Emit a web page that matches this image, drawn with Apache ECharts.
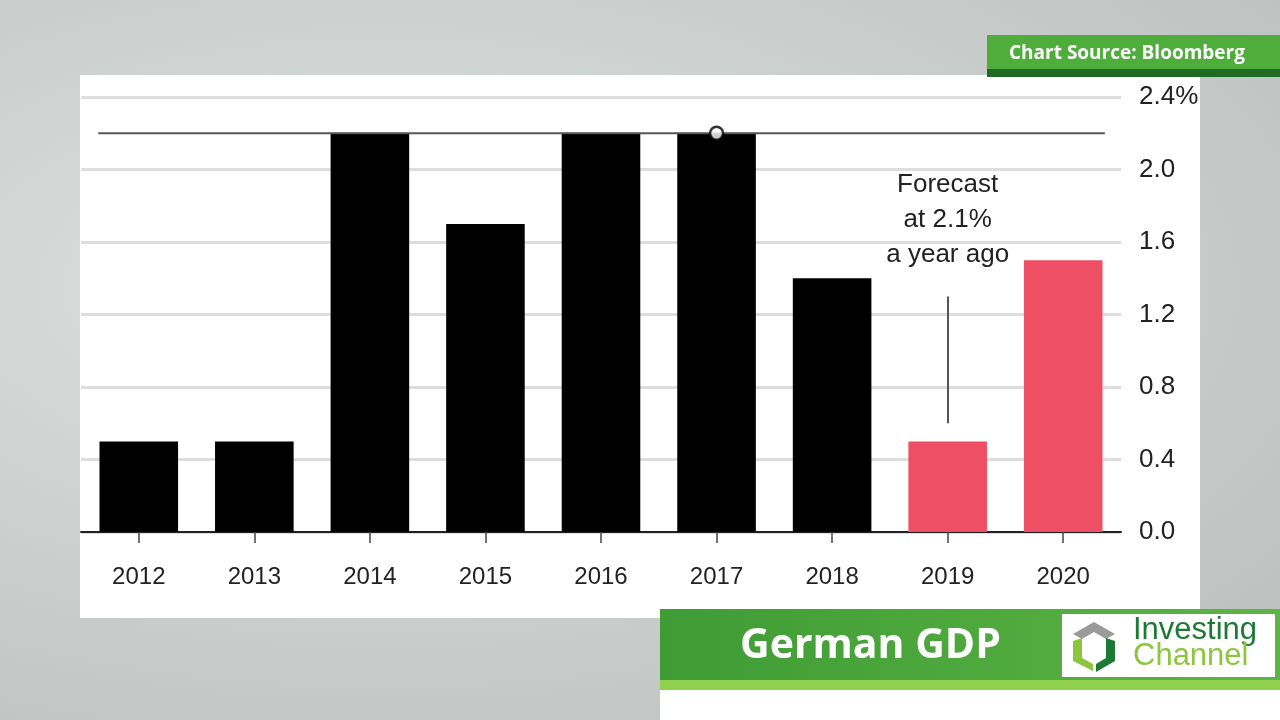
<!DOCTYPE html>
<html lang="en">
<head>
	<meta charset="UTF-8">
	<title>German GDP</title>
	<style>
		html, body { margin: 0; padding: 0; }
		body {
			width: 1280px; height: 720px; overflow: hidden;
			background: radial-gradient(ellipse at 30% 40%, #dfe2e1 0%, #c9cdcc 55%, #b9bebd 100%);
		}
		#chart { width: 1280px; height: 720px; }
	</style>
</head>
<body>
	<div id="chart"></div>
<script src="https://cdn.jsdelivr.net/npm/echarts@6/dist/echarts.min.js"></script>
<script>
	// data
	var years = ['2012', '2013', '2014', '2015', '2016', '2017', '2018', '2019', '2020'];
	var gdp = [0.5, 0.5, 2.2, 1.7, 2.2, 2.2, 1.4, 0.5, 1.5];
	var forecastYears = ['2019', '2020'];
	var refLevel = 2.2;          // dark line across the bars
	var refMarkYear = '2017';    // open circle on the line
	var pointerYear = '2019';
	var pointerRange = [0.6, 1.3];
	var noteText = 'Forecast\nat 2.1%\na year ago';
	var noteLevel = 1.72;

	var black = '#000000', red = '#ee4f64';

	var barData = gdp.map(function (v, i) {
		return {
			value: v,
			itemStyle: { color: forecastYears.indexOf(years[i]) >= 0 ? red : black }
		};
	});

	var chart = echarts.init(document.getElementById('chart'));

	var option = {
		animation: false,
		textStyle: { fontFamily: 'Liberation Sans, Arial, sans-serif' },
		graphic: [
			// white chart panel
			{ type: 'rect', z: -10, shape: { x: 80, y: 75, width: 1120, height: 543 }, style: { fill: '#ffffff' } },
			// source tag
			{ type: 'rect', z: 10, shape: { x: 987, y: 35, width: 293, height: 36 }, style: { fill: '#4fad3c' } },
			{ type: 'rect', z: 10, shape: { x: 987, y: 69, width: 293, height: 8 }, style: { fill: '#1f6b24' } },
			{ type: 'text', z: 11, left: 1009, top: 44, style: {
				text: 'Chart Source: Bloomberg', fill: '#ffffff',
				font: 'bold 19px "Open Sans", "DejaVu Sans", sans-serif'
			} },
			// title banner
			{ type: 'rect', z: 10, shape: { x: 660, y: 690, width: 620, height: 30 }, style: { fill: '#ffffff' } },
			{ type: 'rect', z: 10, shape: { x: 660, y: 609, width: 620, height: 72 }, style: {
				fill: new echarts.graphic.LinearGradient(0, 0, 1, 0, [
					{ offset: 0, color: '#3f9b35' }, { offset: 1, color: '#5cb544' }
				])
			} },
			{ type: 'rect', z: 10, shape: { x: 660, y: 680, width: 620, height: 10 }, style: { fill: '#8fd14f' } },
			{ type: 'text', z: 11, left: 740, top: 626, style: {
				text: 'German GDP', fill: '#ffffff',
				font: 'bold 41px "Open Sans", "DejaVu Sans", sans-serif'
			} },
			// logo
			{ type: 'rect', z: 11, shape: { x: 1062, y: 614, width: 213, height: 63 }, style: { fill: '#ffffff' } },
			{ type: 'polygon', z: 12, shape: { points: [[1073, 634], [1094, 622], [1115, 634], [1106, 639], [1094, 632], [1082, 639]] }, style: { fill: '#9a9a9a' } },
			{ type: 'polygon', z: 12, shape: { points: [[1073, 641], [1082, 638], [1082, 658], [1093, 664], [1093, 671], [1073, 661]] }, style: { fill: '#8cc63f' } },
			{ type: 'polygon', z: 12, shape: { points: [[1115, 641], [1115, 661], [1096, 672], [1096, 664], [1106, 658], [1106, 638]] }, style: { fill: '#1d7a34' } },
			{ type: 'text', z: 12, left: 1133, top: 615, style: {
				text: 'Investing', fill: '#1d7a34',
				font: '31px "Liberation Sans", Arial, sans-serif'
			} },
			{ type: 'text', z: 12, left: 1133, top: 641, style: {
				text: 'Channel', fill: '#8cc63f',
				font: '31px "Liberation Sans", Arial, sans-serif'
			} }
		],
		grid: { left: 81, right: 159, top: 97, bottom: 188 },
		xAxis: [{
			type: 'category',
			data: years,
			axisLine: { show: true, lineStyle: { color: '#222', width: 2 } },
			axisTick: { show: true, alignWithLabel: true, length: 11, lineStyle: { color: '#444', width: 1.5 } },
			axisLabel: { color: '#222', fontSize: 24, margin: 33 }
		}, {
			type: 'value',
			min: -0.5, max: years.length - 0.5,
			show: false
		}],
		yAxis: {
			type: 'value',
			position: 'right',
			min: 0, max: 2.4, interval: 0.4,
			axisLine: { show: false },
			axisTick: { show: false },
			splitLine: { lineStyle: { color: '#dddddd', width: 3 } },
			axisLabel: {
				color: '#222', fontSize: 26, margin: 18,
				formatter: function (v) {
					return v === 2.4 ? '2.4%' : v.toFixed(1);
				}
			}
		},
		series: [{
			type: 'bar',
			data: barData,
			barWidth: '68%',
			markLine: {
				silent: true,
				symbol: 'none',
				lineStyle: { color: '#555', width: 2, type: 'solid' },
				label: { show: false },
				data: [[{ coord: [pointerYear, pointerRange[0]] }, { coord: [pointerYear, pointerRange[1]] }]]
			},
			markPoint: {
				silent: true,
				symbol: 'circle',
				symbolSize: 1,
				itemStyle: { color: 'rgba(0,0,0,0)' },
				label: {
					show: true, position: 'inside', color: '#222',
					fontSize: 26, lineHeight: 35, align: 'center',
					fontFamily: 'Liberation Sans Narrow, Liberation Sans, Arial, sans-serif',
					formatter: noteText
				},
				data: [{ coord: [pointerYear, noteLevel] }]
			}
		}, {
			// reference level line, spanning from first to last bar edge
			type: 'line',
			xAxisIndex: 1,
			data: [[-0.35, refLevel], [years.length - 0.64, refLevel]],
			symbol: 'none',
			lineStyle: { color: '#555', width: 2 },
			z: 3
		}, {
			type: 'scatter',
			data: [[refMarkYear, refLevel]],
			symbol: 'circle',
			symbolSize: 13,
			itemStyle: { color: '#ffffff', borderColor: '#000', borderWidth: 2.5 },
			z: 4
		}]
	};

	chart.setOption(option);
</script>
</body>
</html>
